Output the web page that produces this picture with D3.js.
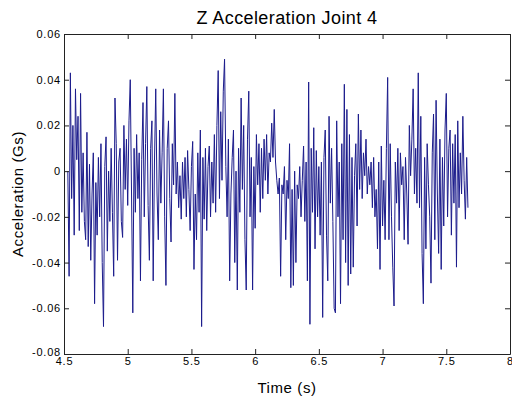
<!DOCTYPE html>
<html>
<head>
<meta charset="utf-8">
<script src="https://cdn.jsdelivr.net/npm/d3@7"></script>
<style>
  body { margin: 0; background: #fff; }
  svg text { font-family: "Liberation Sans", Arial, sans-serif; fill: #000; }
</style>
</head>
<body>
<script>
const width = 512;
const height = 402;

const chartTitle = 'Z Acceleration Joint 4';
const xLabel = 'Time (s)';
const yLabel = 'Acceleration (Gs)';

const xTicks = [4.5, 5, 5.5, 6, 6.5, 7, 7.5, 8];
const yTicks = [0.06, 0.04, 0.02, 0, -0.02, -0.04, -0.06, -0.08];

// sampling: first sample time and interval (s)
const startTime = 4.53;
const sampleStep = 0.01;

// z acceleration samples (Gs)
const accel = [
  0.000, -0.046, 0.043, -0.012, 0.020, -0.028, 0.036, 0.005, 0.024, -0.026,
  0.034, -0.018, 0.008, -0.022, -0.030, 0.017, -0.033, 0.003, -0.039, -0.010,
  0.008, -0.058, -0.005, -0.028, 0.006, -0.020, 0.012, -0.040, -0.068, 0.002,
  0.015, -0.035, 0.000, -0.022, 0.010, -0.018, -0.046, 0.032, 0.012, -0.039,
  0.004, 0.010, -0.022, -0.029, 0.020, -0.008, 0.014, -0.015, 0.022, 0.040,
  -0.010, -0.062, 0.010, -0.018, 0.016, -0.012, 0.008, -0.048, 0.005, 0.030,
  -0.020, 0.012, 0.037, -0.015, -0.039, 0.010, 0.022, -0.048, 0.004, 0.036,
  -0.010, -0.030, 0.018, -0.014, 0.008, 0.036, -0.020, -0.050, 0.010, 0.022,
  -0.012, -0.031, 0.012, -0.006, 0.034, -0.010, 0.004, -0.016, -0.002, -0.021,
  0.004, -0.012, 0.006, -0.020, 0.009, -0.008, -0.026, 0.002, 0.013, -0.043,
  -0.010, -0.030, 0.008, -0.018, 0.018, -0.068, 0.006, -0.021, 0.010, -0.026,
  0.002, 0.011, -0.020, 0.004, -0.014, 0.016, -0.018, 0.020, 0.044, -0.012,
  0.026, -0.004, 0.035, 0.049, 0.002, -0.020, 0.014, -0.048, -0.010, 0.006,
  0.018, -0.040, 0.000, -0.052, 0.010, -0.018, 0.032, -0.008, 0.020, -0.030,
  -0.052, 0.014, 0.035, -0.020, 0.006, -0.052, 0.002, -0.025, 0.016, -0.006,
  0.012, -0.018, 0.010, -0.012, 0.014, -0.004, 0.016, -0.010, 0.008, 0.004,
  0.021, 0.006, 0.027, 0.004, -0.004, -0.010, -0.003, -0.046, -0.006, -0.010,
  0.002, -0.030, -0.004, -0.012, 0.012, -0.051, -0.008, -0.050, 0.000, -0.040,
  -0.006, -0.012, 0.002, -0.020, -0.004, 0.011, -0.022, 0.004, -0.048, 0.039,
  -0.067, 0.010, -0.018, 0.019, -0.034, 0.009, -0.020, 0.002, -0.028, 0.004,
  -0.064, 0.006, 0.018, -0.028, -0.048, 0.024, -0.014, 0.010, -0.022, -0.060,
  -0.062, 0.022, -0.020, 0.004, -0.058, 0.012, -0.030, 0.038, -0.040, 0.027,
  -0.050, 0.016, -0.045, 0.006, -0.042, -0.002, 0.012, -0.024, 0.025, -0.008,
  0.018, -0.012, 0.008, -0.002, 0.014, -0.010, 0.002, -0.006, 0.004, -0.016,
  0.006, -0.020, -0.008, -0.034, 0.004, -0.043, 0.011, -0.024, -0.004, -0.030,
  0.010, 0.041, -0.030, 0.012, -0.020, -0.042, -0.059, 0.004, -0.014, 0.010,
  -0.026, 0.008, -0.006, 0.002, -0.030, 0.006, -0.010, -0.032, 0.020, -0.002,
  0.014, 0.036, -0.010, 0.010, -0.014, 0.043, -0.016, 0.024, -0.036, -0.058,
  0.006, -0.034, 0.012, -0.006, -0.020, -0.049, 0.008, 0.025, -0.030, 0.031,
  -0.010, -0.036, 0.014, -0.043, 0.006, -0.024, 0.018, 0.034, -0.020, 0.010,
  0.018, -0.028, 0.012, -0.014, 0.016, -0.042, 0.022, -0.016, 0.008, -0.010,
  0.024, -0.004, -0.021, 0.006, -0.016
];

const plot = { left: 64, right: 510, top: 34, bottom: 354 };

const svg = d3.select('body')
  .append('svg')
  .attr('width', width)
  .attr('height', height);

const x = d3.scaleLinear().domain([4.5, 8]).range([plot.left, plot.right]);
const y = d3.scaleLinear().domain([-0.08, 0.06]).range([plot.bottom, plot.top]);

const fmt = d => (d === 0 ? '0' : String(d));

// the signal, clipped to the plot box
svg.append('clipPath').attr('id', 'clip')
  .append('rect')
  .attr('x', plot.left).attr('y', plot.top)
  .attr('width', plot.right - plot.left).attr('height', plot.bottom - plot.top);

const line = d3.line()
  .x((d, i) => x(startTime + i * sampleStep))
  .y(d => y(d));

svg.append('path')
  .datum(accel)
  .attr('clip-path', 'url(#clip)')
  .attr('fill', 'none')
  .attr('stroke', '#1c1c8c')
  .attr('stroke-width', 1)
  .attr('d', line);

// axes, MATLAB style: ticks point inward, box all round
const tickLen = 5;
const g = svg.append('g').attr('class', 'axes');

g.append('g')
  .attr('transform', `translate(0,${plot.bottom})`)
  .call(d3.axisBottom(x).tickValues(xTicks).tickSizeInner(-tickLen).tickSizeOuter(0).tickPadding(3).tickFormat(fmt));
g.append('g')
  .attr('transform', `translate(0,${plot.top})`)
  .call(d3.axisTop(x).tickValues(xTicks).tickSizeInner(-tickLen).tickSizeOuter(0).tickFormat(''));
g.append('g')
  .attr('transform', `translate(${plot.left},0)`)
  .call(d3.axisLeft(y).tickValues(yTicks).tickSizeInner(-tickLen).tickSizeOuter(0).tickPadding(3).tickFormat(fmt));
g.append('g')
  .attr('transform', `translate(${plot.right},0)`)
  .call(d3.axisRight(y).tickValues(yTicks).tickSizeInner(-tickLen).tickSizeOuter(0).tickFormat(''));

g.selectAll('.domain').attr('stroke', '#222');
g.selectAll('.tick line').attr('stroke', '#222');
g.selectAll('.tick text')
  .style('font-family', '"Liberation Sans", Arial, sans-serif')
  .style('letter-spacing', '0.8px')
  .attr('font-size', 11)
  .attr('fill', '#111');

// the -0.08 label sits just above the 4.5 label, as in the original
g.selectAll('.tick text').filter(d => d === -0.08).attr('dy', '0.1em');

// titles
svg.append('text')
  .attr('x', (plot.left + plot.right) / 2)
  .attr('y', 24)
  .attr('text-anchor', 'middle')
  .attr('font-size', 18)
  .style('letter-spacing', '0.4px')
  .text(chartTitle);

svg.append('text')
  .attr('x', (plot.left + plot.right) / 2)
  .attr('y', 393)
  .attr('text-anchor', 'middle')
  .attr('font-size', 15)
  .style('letter-spacing', '0.6px')
  .text(xLabel);

svg.append('text')
  .attr('transform', `translate(23,${(plot.top + plot.bottom) / 2}) rotate(-90)`)
  .attr('text-anchor', 'middle')
  .attr('font-size', 15)
  .style('letter-spacing', '0.6px')
  .text(yLabel);
</script>
</body>
</html>
